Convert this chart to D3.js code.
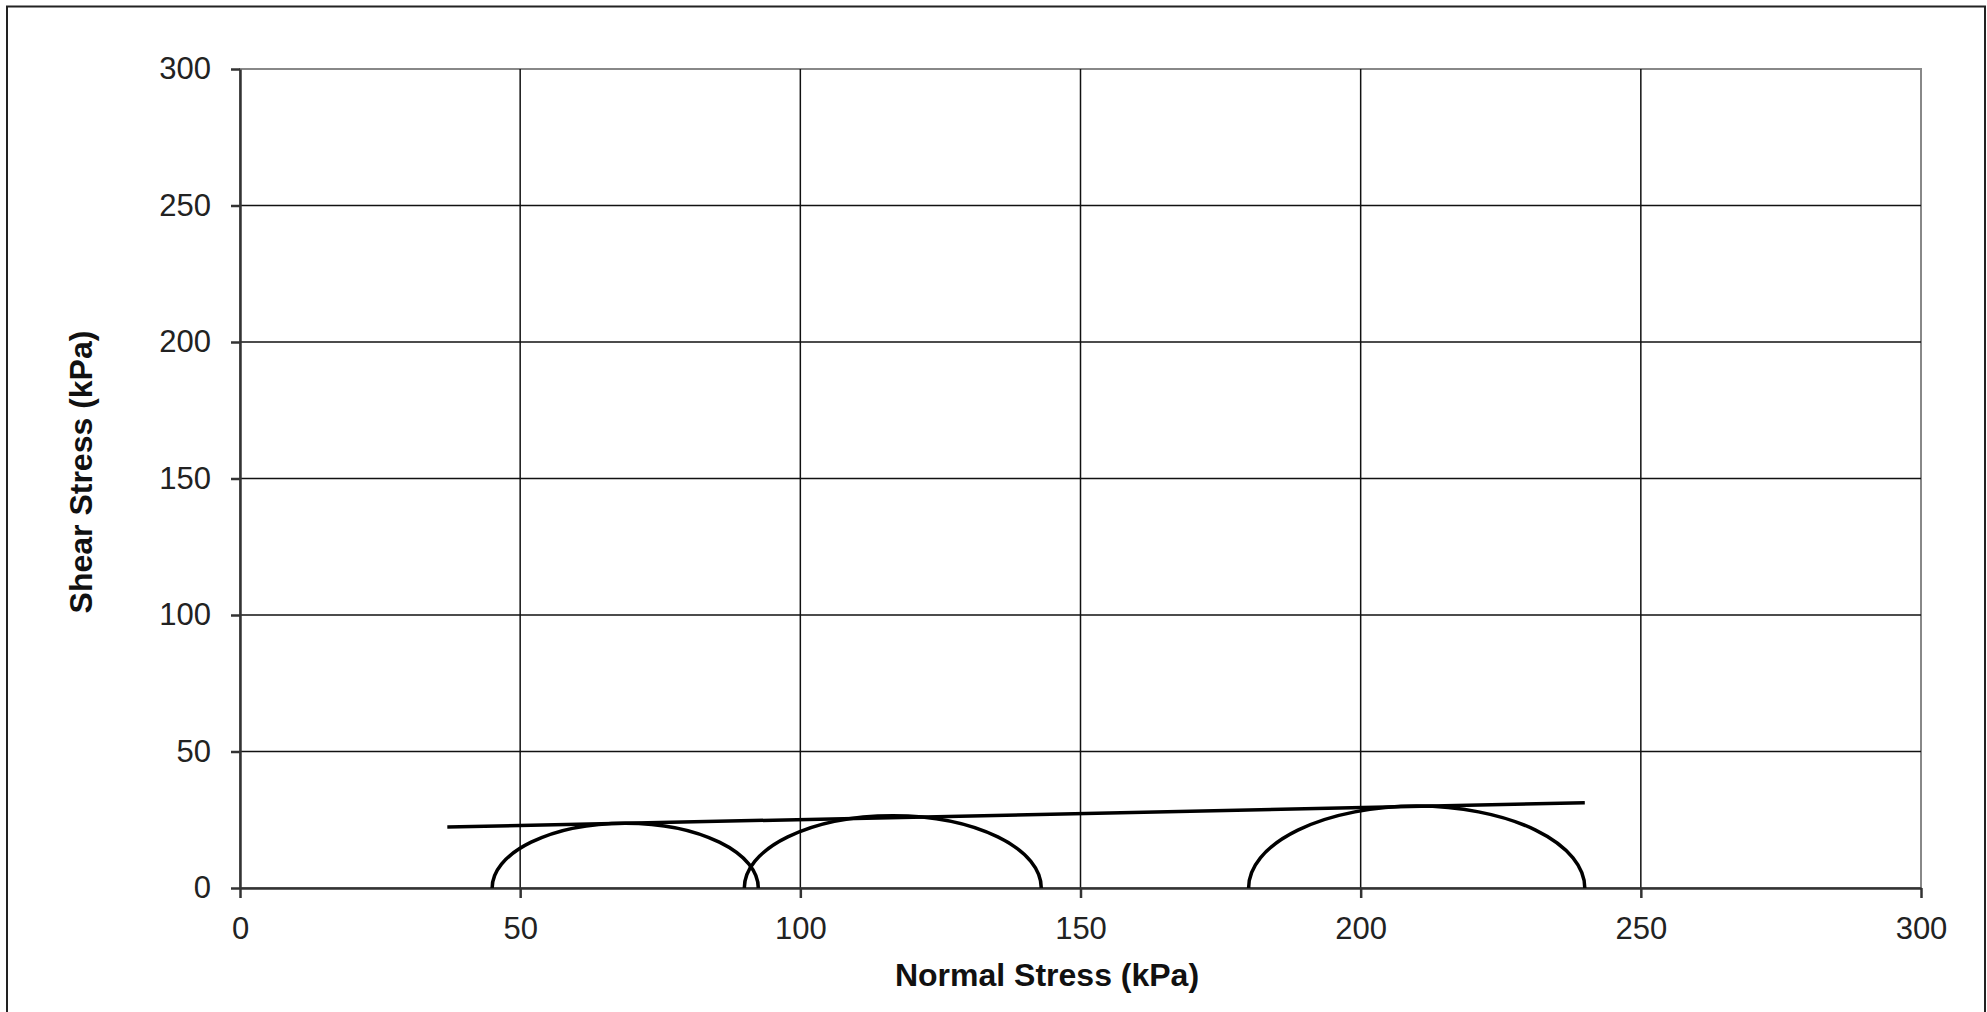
<!DOCTYPE html>
<html>
<head>
<meta charset="utf-8">
<script src="https://cdn.jsdelivr.net/npm/d3@7"></script>
<style>
  body { margin: 0; background: #fff; }
  text { font-family: "Liberation Sans", Arial, sans-serif; fill: #222; }
  .tick text { font-size: 31px; }
  .label { font-size: 32px; font-weight: bold; fill: #111; }
</style>
</head>
<body>
<div id="container"></div>
<script>
// Mohr circles given as (sigma3, sigma1) pairs, in kPa
var sigma3 = [45, 90, 180];
var sigma1 = [92.5, 143, 240];

// Failure envelope end points
var envX = [37, 240];
var envY = [22.3, 31.2];

// Tick values for both axes
var xTicks = [0, 50, 100, 150, 200, 250, 300];
var yTicks = [0, 50, 100, 150, 200, 250, 300];

var width = 1987;
var height = 1012;
var margin = {left: 240, top: 69, right: 66, bottom: 124};

var svg = d3.select("#container")
            .append("svg")
            .attr("width", width)
            .attr("height", height)

// Outer frame
svg.append("rect")
   .attr("x", 7)
   .attr("y", 6.5)
   .attr("width", 1978)
   .attr("height", 1020)
   .attr("fill", "none")
   .attr("stroke", "#222")
   .attr("stroke-width", 2)

var xScale = d3.scaleLinear()
               .domain([0, 300])
               .range([margin.left, width - margin.right])

var yScale = d3.scaleLinear()
               .domain([0, 300])
               .range([height - margin.bottom, margin.top])

// Plot border (top and right are gray)
svg.append("rect")
   .attr("x", xScale(0))
   .attr("y", yScale(300))
   .attr("width", xScale(300) - xScale(0))
   .attr("height", yScale(0) - yScale(300))
   .attr("fill", "none")
   .attr("stroke", "#888")
   .attr("stroke-width", 2)

// Grid lines
svg.append("g").selectAll("line")
   .data(xTicks.slice(1, -1))
   .enter()
   .append("line")
   .attr("x1", (d) => xScale(d))
   .attr("x2", (d) => xScale(d))
   .attr("y1", yScale(0))
   .attr("y2", yScale(300))
   .attr("stroke", "#111")
   .attr("stroke-width", 1.5)

svg.append("g").selectAll("line")
   .data(yTicks.slice(1, -1))
   .enter()
   .append("line")
   .attr("x1", xScale(0))
   .attr("x2", xScale(300))
   .attr("y1", (d) => yScale(d))
   .attr("y2", (d) => yScale(d))
   .attr("stroke", "#111")
   .attr("stroke-width", 1.5)

// Axes
var xAxis = d3.axisBottom(xScale).tickValues(xTicks).tickSize(10).tickPadding(19).tickSizeOuter(0)
var yAxis = d3.axisLeft(yScale).tickValues(yTicks).tickSize(9).tickPadding(20).tickSizeOuter(0)

var gx = svg.append("g")
   .attr("transform", "translate(0," + yScale(0) + ")")
   .call(xAxis)
var gy = svg.append("g")
   .attr("transform", "translate(" + xScale(0) + ",0)")
   .call(yAxis)

gx.selectAll("path, line").attr("stroke", "#333").attr("stroke-width", 2.5)
gy.selectAll("path, line").attr("stroke", "#333").attr("stroke-width", 2.5)
gx.selectAll("text").attr("fill", "#222").attr("font-family", null).attr("font-size", null)
gy.selectAll("text").attr("fill", "#222").attr("font-family", null).attr("font-size", null)

// Mohr circles drawn as half ellipses (different px per unit on each axis)
var circles = sigma3.map((s3, i) => ({s3: s3, s1: sigma1[i]}))

svg.append("g").selectAll("path")
   .data(circles)
   .enter()
   .append("path")
   .attr("d", function(d) {
     var r = (d.s1 - d.s3) / 2;
     var rx = xScale(r) - xScale(0);
     var ry = yScale(0) - yScale(r);
     return "M" + xScale(d.s3) + "," + yScale(0) +
            " A" + rx + "," + ry + " 0 0 1 " + xScale(d.s1) + "," + yScale(0);
   })
   .attr("fill", "none")
   .attr("stroke", "#000")
   .attr("stroke-width", 3.5)

// Failure envelope
var line = d3.line().x((d) => xScale(d[0])).y((d) => yScale(d[1]))
svg.append("path")
   .datum(envX.map((x, i) => [x, envY[i]]))
   .attr("d", line)
   .attr("fill", "none")
   .attr("stroke", "#000")
   .attr("stroke-width", 3.5)

// Axis titles
svg.append("text")
   .attr("x", 1047)
   .attr("y", 986)
   .attr("text-anchor", "middle")
   .attr("class", "label")
   .text("Normal Stress (kPa)");

svg.append("text")
   .attr("transform", "translate(92,472) rotate(-90)")
   .attr("text-anchor", "middle")
   .attr("class", "label")
   .text("Shear Stress (kPa)");
</script>
</body>
</html>
